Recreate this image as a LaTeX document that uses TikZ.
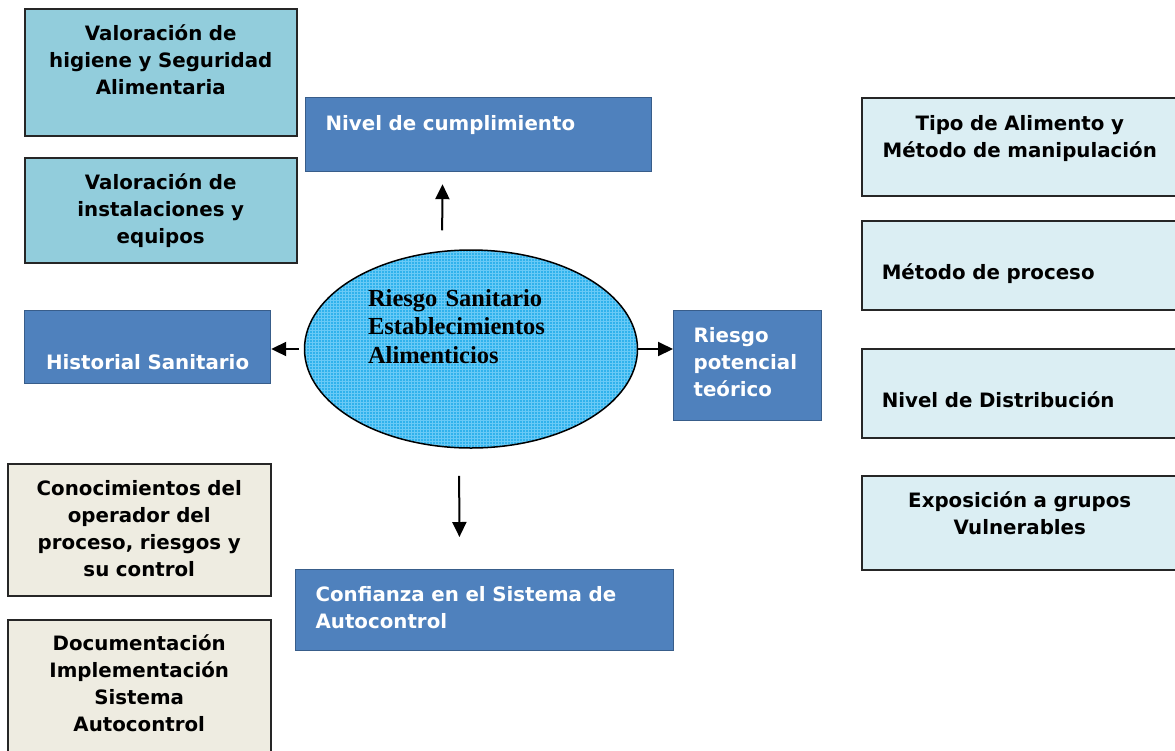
\documentclass[tikz,border=0pt]{standalone}
\usepackage{fontspec}
\setmainfont{DejaVu Sans}
\newfontfamily\timesfont{Liberation Serif}
\usetikzlibrary{shapes.geometric, arrows.meta, patterns}

\definecolor{tealbox}{RGB}{146,205,220}
\definecolor{bluebox}{RGB}{79,129,189}
\definecolor{blueedge}{RGB}{56,93,138}
\definecolor{beigebox}{RGB}{238,236,225}
\definecolor{palebox}{RGB}{219,238,243}
\definecolor{ellfill}{RGB}{48,178,236}
\definecolor{ellgrid}{RGB}{105,202,246}

\begin{document}
\begin{tikzpicture}[x=1pt,y=-1pt,
  txt/.style={font=\fontsize{19.8}{27}\selectfont\bfseries},
  lbox/.style={txt, draw=black!85, line width=1.5pt, inner ysep=0pt, inner xsep=10pt, anchor=north west, align=center},
  bbox/.style={txt, draw=blueedge, line width=1.2pt, fill=bluebox, text=white, inner ysep=0pt, inner xsep=20pt, anchor=north west, align=left}]
\useasboundingbox (0,0) rectangle (1175,750);
\clip (0,0) rectangle (1175,750);
\tikzset{arr/.style={line width=2pt, -{Triangle[length=15pt,width=14pt]}}}
  \node[lbox, fill=tealbox, text width=252pt, text height=31.5pt, text depth=95.5pt] (V1) at (24,8)
    {Valoración de\\higiene y Seguridad\\Alimentaria};
  \node[lbox, fill=tealbox, text width=252pt, text height=31.5pt, text depth=73.5pt] (V2) at (24,157)
    {Valoración de\\instalaciones y\\equipos};
  \node[bbox, text width=306pt, text height=32.5pt, text depth=41.5pt] (N) at (305,97)
    {Nivel de cumplimiento};
  \node[bbox, align=center, inner xsep=10pt, text width=226pt, text height=58.5pt, text depth=14.5pt] (H) at (24,310)
    {Historial Sanitario};
  \node[lbox, fill=beigebox, text width=243pt, text height=31.5pt, text depth=100.5pt] (K) at (7,463)
    {Conocimientos del\\operador del\\proceso, riesgos y\\su control};
  \node[lbox, fill=beigebox, text width=243pt, text height=30.5pt, text depth=110.5pt] (D) at (7,619)
    {Documentación\\Implementación\\Sistema\\Autocontrol};
  \node[bbox, text width=338pt, text height=31.5pt, text depth=49.5pt] (C) at (295,569)
    {Confianza en el Sistema de\\Autocontrol};
  \node[bbox, text width=108pt, text height=31.5pt, text depth=78.5pt] (R) at (673,310)
    {Riesgo\\potencial\\teórico};
  \node[lbox, fill=palebox, text width=296pt, text height=32.5pt, text depth=65.5pt] (T) at (861,97)
    {Tipo de Alimento y\\Método de manipulación};
  \node[lbox, fill=palebox, align=left, inner xsep=20pt, text width=276pt, text height=58.5pt, text depth=30.5pt] (M) at (861,220)
    {Método de proceso};
  \node[lbox, fill=palebox, align=left, inner xsep=20pt, text width=276pt, text height=58.5pt, text depth=30.5pt] (L) at (861,348)
    {Nivel de Distribución};
  \node[lbox, fill=palebox, text width=296pt, text height=31.5pt, text depth=62.5pt] (E) at (861,475)
    {Exposición a grupos\\Vulnerables};
  \node[ellipse, draw, line width=1.5pt, preaction={fill=ellfill}, pattern=grid, pattern color=ellgrid,
        minimum width=333pt, minimum height=198pt,
        inner sep=0pt, text width=206pt, align=left, text height=20pt, text depth=106pt,
        font=\timesfont\bfseries\fontsize{24.5}{28.5}\selectfont] (S) at (471,349)
    {Riesgo Sanitario\\Establecimientos\\Alimenticios};
  \draw[arr, shorten <=19pt, shorten >=12pt] ([xshift=-29pt]S.north) -- ([xshift=-36pt]N.south);
  \draw[arr, shorten <=5pt] (S.west) -- (S.west -| H.east);
  \draw[arr] (S.east) -- (S.east -| R.west);
  \draw[arr, shorten <=27pt, shorten >=32pt] ([xshift=-12pt]S.south) -- ([xshift=-25pt]C.north);
\end{tikzpicture}
\end{document}
